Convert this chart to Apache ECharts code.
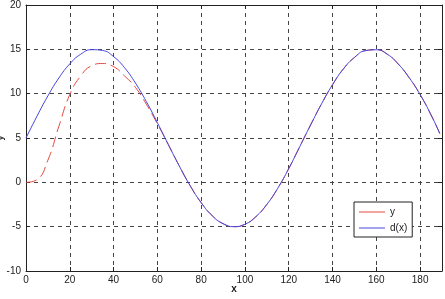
<!DOCTYPE html>
<html>
<head>
<meta charset="utf-8">
<script src="https://cdn.jsdelivr.net/npm/echarts@6/dist/echarts.min.js"></script>
<style>
	html, body { margin: 0; padding: 0; background: #fff; }
	#main { width: 445px; height: 299px; }
</style>
</head>
<body>
<div id="main"></div>
<script>
// x positions of the samples
const xVals = [0, 5, 10, 15, 20, 25, 30, 35, 40, 45, 50, 55, 60, 65, 70, 75, 80, 85, 90, 95,
	100, 105, 110, 115, 120, 125, 130, 135, 140, 145, 150, 155, 160, 165, 170, 175, 180, 185, 189];
// y (red, dashed) - starts at 0, catches up with d(x) around x=60
const yVals = [0, 0.3, 2.5, 6.3, 9.9, 12.0, 13.15, 13.4, 13.05, 12.0, 10.7, 8.8, 6.6, 4.26, 1.85, -0.39, -2.29, -3.75, -4.66, -5.0,
	-4.73, -3.87, -2.49, -0.66, 1.55, 4.01, 6.48, 8.86, 11.01, 12.8, 14.08, 14.85, 14.95, 14.45, 13.35, 11.8, 9.9, 7.6, 5.5];
// d(x) (blue)
const dVals = [5.0, 7.45, 9.75, 11.76, 13.36, 14.45, 14.96, 14.87, 14.18, 12.93, 11.19, 9.09, 6.73, 4.26, 1.85, -0.39, -2.29, -3.75, -4.66, -5.0,
	-4.73, -3.87, -2.49, -0.66, 1.55, 4.01, 6.48, 8.86, 11.01, 12.8, 14.08, 14.85, 14.95, 14.45, 13.35, 11.8, 9.9, 7.6, 5.5];
const seriesNames = ['y', 'd(x)'];

function pairs(xs, ys) {
	return xs.map((x, i) => [x, ys[i]]);
}

const chart = echarts.init(document.getElementById('main'), null, { renderer: 'canvas' });

const labelStyle = {
	color: '#222',
	fontSize: 10,
	fontFamily: 'Liberation Sans, Arial, sans-serif'
};
const gridLine = {
	show: true,
	lineStyle: { color: '#444', type: [4, 4], width: 1 }
};
const frameLine = { show: true, onZero: false, lineStyle: { color: '#222', width: 1 } };

chart.setOption({
	animation: false,
	backgroundColor: '#fff',
	grid: { left: 26, right: 3, top: 5, bottom: 28, containLabel: false, outerBoundsMode: 'none' },
	legend: {
		orient: 'vertical',
		left: 354,
		top: 202,
		data: seriesNames,
		icon: 'rect',
		backgroundColor: '#fff',
		borderColor: '#222',
		borderWidth: 1,
		borderRadius: 0,
		padding: [5, 5, 4, 5],
		itemWidth: 26,
		itemHeight: 1,
		itemGap: 6,
		textStyle: labelStyle
	},
	xAxis: [
		{
			type: 'value',
			min: 0,
			max: 190,
			interval: 20,
			name: 'x',
			nameLocation: 'middle',
			nameGap: 13,
			nameMoveOverlap: false,
			nameTextStyle: { color: '#222', fontSize: 10, fontWeight: 'bold', fontFamily: 'Liberation Sans, Arial, sans-serif' },
			axisLine: frameLine,
			axisTick: { show: true, inside: true, length: 4, lineStyle: { color: '#222' } },
			axisLabel: Object.assign({ margin: 4, showMaxLabel: false }, labelStyle),
			splitLine: gridLine
		},
		{
			type: 'value',
			position: 'top',
			min: 0,
			max: 190,
			interval: 20,
			axisLine: frameLine,
			axisTick: { show: true, inside: true, length: 4, lineStyle: { color: '#222' } },
			axisLabel: { show: false },
			splitLine: { show: false }
		}
	],
	yAxis: [
		{
			type: 'value',
			min: -10,
			max: 20,
			interval: 5,
			name: 'y',
			nameLocation: 'middle',
			nameGap: 21,
			nameMoveOverlap: false,
			nameTextStyle: { color: '#222', fontSize: 9, fontWeight: 'bold', fontFamily: 'Liberation Sans, Arial, sans-serif' },
			axisLine: frameLine,
			axisTick: { show: true, inside: true, length: 4, lineStyle: { color: '#222' } },
			axisLabel: Object.assign({ margin: 5 }, labelStyle),
			splitLine: gridLine
		},
		{
			type: 'value',
			position: 'right',
			min: -10,
			max: 20,
			interval: 5,
			axisLine: frameLine,
			axisTick: { show: true, inside: true, length: 4, lineStyle: { color: '#222' } },
			axisLabel: { show: false },
			splitLine: { show: false }
		}
	],
	series: [
		{
			name: seriesNames[0],
			type: 'line',
			xAxisIndex: 0,
			yAxisIndex: 0,
			symbol: 'none',
			smooth: true,
			color: '#e5483f',
			lineStyle: { color: '#e5483f', width: 1, type: [11, 5] },
			data: pairs(xVals, yVals),
			z: 2
		},
		{
			name: seriesNames[1],
			type: 'line',
			xAxisIndex: 0,
			yAxisIndex: 0,
			symbol: 'none',
			smooth: true,
			color: '#4545dd',
			lineStyle: { color: '#4545dd', width: 1 },
			data: pairs(xVals, dVals),
			z: 3
		}
	]
});
</script>
</body>
</html>
